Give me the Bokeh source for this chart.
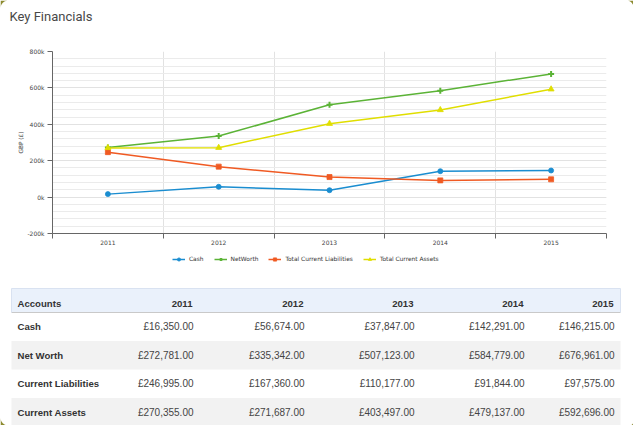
import math
from bokeh.plotting import figure
from bokeh.models import FixedTicker, Range1d, Legend, LegendItem, ColumnDataSource
from bokeh.embed import file_html
from bokeh.resources import INLINE
from bokeh.core.properties import value

# ---------------- data ----------------
years = ["2011", "2012", "2013", "2014", "2015"]
cash = [16350, 56674, 37847, 142291, 146215]
net_worth = [272781, 335342, 507123, 584779, 676961]
liabilities = [246995, 167360, 110177, 91844, 97575]
assets = [270355, 271687, 403497, 479137, 592696]
series_names = ["Cash", "NetWorth", "Total Current Liabilities", "Total Current Assets"]
row_labels = ["Cash", "Net Worth", "Current Liabilities", "Current Assets"]
y_ticks = [-200000, 0, 200000, 400000, 600000, 800000]
y_tick_labels = ["-200k", "0k", "200k", "400k", "600k", "800k"]
title_text = "Key Financials"
y_label = "GBP (£)"
header_first = "Accounts"

W = 633
TXT = "DejaVu Sans"
OLIVE = "#8d8b30"


def corner(cx, cy, r, sx, sy):
    """card corner decoration: square of side r minus quarter circle"""
    xs_, ys_ = [cx, cx + sx * r], [cy, cy]
    for k in range(11):
        a = math.pi / 2 * k / 10
        xs_.append(cx + sx * r * (1 - math.sin(a)))
        ys_.append(cy + sy * r * (1 - math.cos(a)))
    xs_.append(cx)
    ys_.append(cy + sy * r)
    return xs_, ys_


def bare(fig):
    fig.grid.visible = False
    fig.outline_line_color = None


# ---------------- title ----------------
TTH = 35
tf = figure(width=W, height=TTH, x_range=Range1d(0, W), y_range=Range1d(TTH, 0),
            x_axis_location=None, y_axis_location=None, output_backend="svg",
            toolbar_location=None, min_border=0)
bare(tf)
for (cx, sx, r) in [(0, 1, 8), (W, -1, 7)]:
    px, py = corner(cx, 0, r, sx, 1)
    tf.patch(px, py, fill_color=OLIVE, line_color=None)
tf.text(x=[9], y=[16], text=[title_text], text_font=value("Roboto"), text_font_size="13px",
        text_baseline="middle", text_align="left", text_color="#484848")

# ---------------- chart ----------------
n = len(years)
xs = [i + 0.5 for i in range(n)]
ch = figure(width=W, height=214, x_range=Range1d(0, n), y_range=Range1d(-200000, 800000),
            output_backend="svg", toolbar_location=None,
            min_border_left=52, min_border_right=27, min_border_top=16, min_border_bottom=16)
ch.outline_line_color = None

xt = FixedTicker(ticks=xs, minor_ticks=list(range(n + 1)))
xa = ch.xaxis[0]
xa.ticker = xt
xa.major_label_overrides = {x: y for x, y in zip(xs, years)}
xa.major_tick_out = 0
xa.major_tick_in = 0
xa.minor_tick_out = 5
xa.minor_tick_in = 0
xa.minor_tick_line_color = "#666666"
xa.axis_line_color = "#666666"
xa.major_label_text_font = TXT
xa.major_label_text_font_size = "6px"
xa.major_label_text_color = "#444444"
xa.major_label_standoff = 1
ch.xgrid.ticker = xt
ch.xgrid.grid_line_color = None
ch.xgrid.minor_grid_line_color = "#e2e2e2"

yt = FixedTicker(ticks=y_ticks, minor_ticks=list(range(-200000, 800001, 40000)))
ya = ch.yaxis[0]
ya.ticker = yt
ya.major_label_overrides = dict(zip(y_ticks, y_tick_labels))
ya.major_tick_out = 5
ya.major_tick_in = 0
ya.minor_tick_out = 0
ya.minor_tick_in = 0
ya.axis_line_color = "#666666"
ya.major_tick_line_color = "#666666"
ya.major_label_text_font = TXT
ya.major_label_text_font_size = "6px"
ya.major_label_text_color = "#444444"
ya.major_label_standoff = 3
ya.axis_label = y_label
ya.axis_label_text_font = TXT
ya.axis_label_text_font_size = "5.8px"
ya.axis_label_text_font_style = "normal"
ya.axis_label_text_color = "#444444"
ya.axis_label_standoff = 0
ch.ygrid.ticker = yt
ch.ygrid.grid_line_color = "#e2e2e2"
ch.ygrid.minor_grid_line_color = "#ebebeb"

colors = ["#1a8dd0", "#5bb336", "#f05a23", "#e0de00"]
markers = ["circle", "cross", "square", "triangle"]
msizes = [5, 6, 5, 6]
series = [cash, net_worth, liabilities, assets]
for vals, col, mk, ms in zip(series, colors, markers, msizes):
    src = ColumnDataSource(dict(x=xs, y=vals))
    ch.line("x", "y", source=src, line_color=col, line_width=1.5)
    ch.scatter("x", "y", source=src, marker=mk, size=ms, fill_color=col,
               line_color=col, line_width=2 if mk == "cross" else 0.8)

# ---------------- legend strip ----------------
LH = 29
lf = figure(width=W, height=LH, x_range=Range1d(0, W), y_range=Range1d(LH, 0),
            x_axis_location=None, y_axis_location=None, output_backend="svg",
            toolbar_location=None, min_border=0)
bare(lf)
items = []
for name, vals, col, mk, ms in zip(series_names, series, colors, markers, msizes):
    # same series; values lie far outside this strip's range, so only the legend keys show
    src = ColumnDataSource(dict(x=xs, y=vals))
    ln = lf.line("x", "y", source=src, line_color=col, line_width=1.5)
    sc = lf.scatter("x", "y", source=src, marker=mk, size=ms - 1, fill_color=col,
                    line_color=col, line_width=2 if mk == "cross" else 0.8)
    items.append(LegendItem(label=name, renderers=[ln, sc]))
leg = Legend(items=items, orientation="horizontal", location=(172, 15),
             label_text_font=TXT, label_text_font_size="5.9px", label_text_color="#333333",
             glyph_width=13, glyph_height=8, label_height=8, label_width=0,
             spacing=10, label_standoff=4, padding=0, margin=0,
             border_line_color=None, background_fill_alpha=0)
lf.add_layout(leg, "center")

# ---------------- table ----------------
TH = 147
tb = figure(width=W, height=TH, x_range=Range1d(0, W), y_range=Range1d(TH, 0),
            x_axis_location=None, y_axis_location=None, output_backend="svg",
            toolbar_location=None, min_border=0)
bare(tb)

left, right = 11, 620
head_top, head_bot = 10, 34
row_h = 28.5
col_right = [192, 303, 413, 523, 613]

tb.quad(left=[left], right=[right], top=[head_top], bottom=[head_bot],
        fill_color="#eaf1fb", line_color=None)
tb.segment(x0=[left, left], x1=[right, right], y0=[head_top, head_bot], y1=[head_top, head_bot],
           line_color=["#d9e2f1", "#c9c9c9"], line_width=1)
tb.segment(x0=[left, right], x1=[left, right], y0=[head_top, head_top], y1=[head_bot, head_bot],
           line_color="#d9e2f1", line_width=1)

n_rows = len(row_labels)
row_tops = [head_bot + row_h * i for i in range(n_rows)]
grey = [i for i in range(n_rows) if i % 2 == 1]
tb.quad(left=[left] * len(grey), right=[right] * len(grey),
        top=[row_tops[i] for i in grey], bottom=[row_tops[i] + row_h for i in grey],
        fill_color="#f2f2f2", line_color=None)

tb.text(x=[17], y=[25], text=[header_first], text_font=value("Liberation Sans"),
        text_font_size="9.6px", text_font_style="bold", text_baseline="middle",
        text_align="left", text_color="#333333")
tb.text(x=col_right, y=[25] * n, text=years, text_font=value("Liberation Sans"),
        text_font_size="9.6px", text_font_style="bold", text_baseline="middle",
        text_align="right", text_color="#333333")

row_series = [cash, net_worth, liabilities, assets]
centers = [t + row_h / 2 for t in row_tops]
tb.text(x=[17] * n_rows, y=centers, text=row_labels, text_font=value("Liberation Sans"),
        text_font_size="9.6px", text_font_style="bold", text_baseline="middle",
        text_align="left", text_color="#333333")
for cy, vals in zip(centers, row_series):
    tb.text(x=[c + 1 for c in col_right], y=[cy] * n, text=[f"£{v:,.2f}" for v in vals],
            text_font=value("Liberation Sans"), text_font_size="10px",
            text_baseline="middle", text_align="right", text_color="#444444")

for (cx, cy, sx, sy, r) in [(0, TH, 1, -1, 8), (W, TH, -1, -1, 4)]:
    px, py = corner(cx, cy, r, sx, sy)
    tb.patch(px, py, fill_color=OLIVE, line_color=None)

open("out.html", "w").write(file_html([tf, ch, lf, tb], INLINE))
